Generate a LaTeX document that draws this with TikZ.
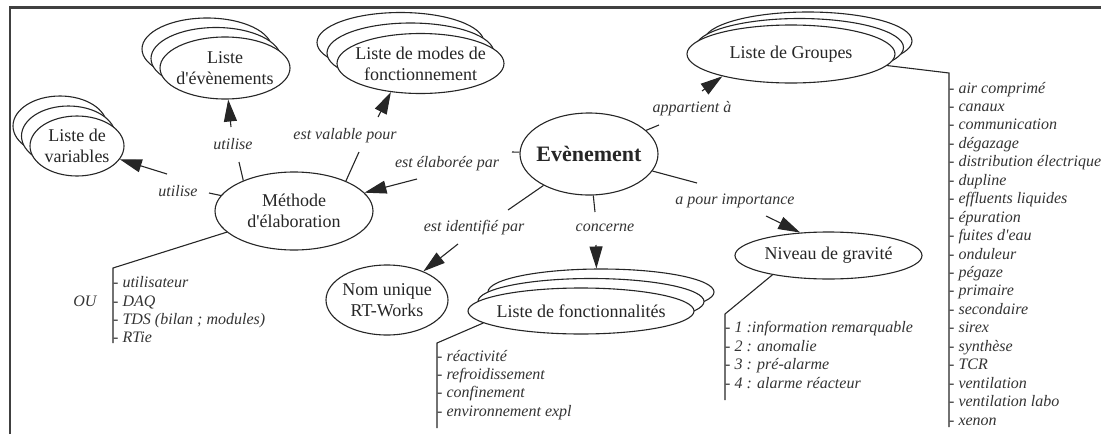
\documentclass[tikz,border=0pt]{standalone}
\usepackage{fontspec}
\setmainfont{Liberation Serif}
\usetikzlibrary{shapes.geometric,arrows.meta}
\begin{document}
\begin{tikzpicture}[x=1pt,y=-1pt,
  ell/.style={ellipse, draw=black!85, fill=white, line width=1.1pt, inner sep=0pt},
  etext/.style={align=center, font=\fontsize{18}{21}\selectfont, text=black!85, inner sep=0pt},
  lab/.style={font=\fontsize{16}{18}\selectfont\itshape, text=black!80, inner sep=0pt, text height=11pt, text depth=3pt},
  item/.style={font=\fontsize{16}{18}\selectfont\itshape, text=black!80, anchor=west, inner sep=0pt, text height=11pt, text depth=3pt},
  conn/.style={draw=black!85, line width=1.1pt},
  arr/.style={conn, -{Triangle[length=22pt,width=13pt]}},
  frame/.style={draw=black!75, line width=2.4pt}
]
\useasboundingbox (0,0) rectangle (1101,434);
% frame
\coordinate (fbl) at (10,434);
\coordinate (ftl) at (10,7.5);
\coordinate (ftr) at (1101,7.5);
\draw[frame] (fbl) -- (ftl) -- (ftr);

% Liste de variables (stack)
\node[ell, minimum width=94pt, minimum height=60pt] (var3) at (60,126) {};
\node[ell, minimum width=94pt, minimum height=60pt] (var2) at (68.5,136) {};
\node[ell, minimum width=94pt, minimum height=60pt] (var) at (77,146) {};
\node[etext] at (var) {Liste de\\variables};

% Liste d'evenements (stack)
\node[ell, minimum width=130pt, minimum height=62pt] (evl3) at (207,49) {};
\node[ell, minimum width=130pt, minimum height=62pt] (evl2) at (216,58.5) {};
\node[ell, minimum width=130pt, minimum height=62pt] (evl) at (225,68) {};
\node[etext] at (evl) {Liste\\d\textquotesingle évènements};

% Liste de modes (stack)
\node[ell, minimum width=167pt, minimum height=60pt] (modes3) at (400.5,42.5) {};
\node[ell, minimum width=167pt, minimum height=60pt] (modes2) at (410.5,53) {};
\node[ell, minimum width=167pt, minimum height=60pt] (modes) at (420.5,63.5) {};
\node[etext] at (modes) {Liste de modes de\\fonctionnement};

% Liste de Groupes (stack)
\node[ell, minimum width=208pt, minimum height=58pt] (grp3) at (808,41) {};
\node[ell, minimum width=208pt, minimum height=58pt] (grp2) at (799.5,47.5) {};
\node[ell, minimum width=208pt, minimum height=58pt] (grp) at (791,54) {};
\node[etext] at (grp) {Liste de Groupes};

% Methode
\node[ell, minimum width=158pt, minimum height=78pt] (met) at (294,211) {};
\node[etext] at (met) {Méthode\\d\textquotesingle élaboration};

% Evenement
\node[ell, minimum width=138pt, minimum height=82pt] (evt) at (589,154) {};
\node[etext, font=\fontsize{22}{26}\selectfont\bfseries] at (evt) {Evènement};

% Niveau de gravite
\node[ell, minimum width=187pt, minimum height=47pt] (niv) at (828.5,255.5) {};
\node[etext] at (niv) {Niveau de gravité};

% Nom unique
\node[ell, minimum width=122pt, minimum height=70pt] (nom) at (387,300) {};
\node[etext] at (nom) {Nom unique\\RT-Works};

% Liste de fonctionnalites (stack)
\node[ell, minimum width=226pt, minimum height=46pt] (fonc3) at (601,292) {};
\node[ell, minimum width=226pt, minimum height=46pt] (fonc2) at (591,301.5) {};
\node[ell, minimum width=226pt, minimum height=46pt] (fonc) at (581,311) {};
\node[etext] at (fonc) {Liste de fonctionnalités};

% connector break points
\coordinate (c1a) at (209,193); \coordinate (c1b) at (167,174);
\coordinate (c2a) at (239,162); \coordinate (c2b) at (231,127);
\coordinate (c3a) at (359,152); \coordinate (c3b) at (378,117);
\coordinate (c4a) at (512,152); \coordinate (c4b) at (417,179);
\coordinate (c5a) at (659,125); \coordinate (c5b) at (702,91);
\coordinate (c6a) at (697,183); \coordinate (c6b) at (766,216);
\coordinate (c7a) at (508,210); \coordinate (c7b) at (458,244);
\coordinate (c8a) at (595,212); \coordinate (c8b) at (596,245);

\draw[conn] (met) -- (c1a); \draw[arr] (c1b) -- (var);
\draw[conn] (met.149.5) -- (c2a); \draw[arr] (c2b) -- (evl);
\draw[conn] (met.30.5) -- (c3a); \draw[arr] (c3b) -- (modes.224);
\draw[conn] (evt) -- (c4a); \draw[arr] (c4b) -- (met);
\draw[conn] (evt) -- (c5a); \draw[arr] (c5b) -- (grp.198);
\draw[conn] (evt) -- (c6a); \draw[arr] (c6b) -- (niv.141.6);
\draw[conn] (evt) -- (c7a); \draw[arr] (c7b) -- (nom);
\draw[conn] (evt) -- (c8a); \draw[arr] (c8b) -- (fonc3.101.8);

% labels
\node[lab] (l1) at (178,192) {utilise};
\node[lab] (l2) at (233,145) {utilise};
\node[lab] (l3) at (345,135) {est valable pour};
\node[lab] (l4) at (447,163) {est élaborée par};
\node[lab] (l5) at (692,108) {appartient à};
\node[lab] (l6) at (735,200) {a pour importance};
\node[lab] (l7) at (474,227) {est identifié par};
\node[lab] (l8) at (605,227) {concerne};

% list: methode
\coordinate (oT) at (113,268); \coordinate (oB) at (113,343);
\draw[conn] (met) -- (oT) -- (oB);
\node[lab] (ou) at (85,302) {OU};
\node[item] (o1) at (113,283) {- utilisateur};
\node[item] (o2) at (113,302) {- DAQ};
\node[item] (o3) at (113,320) {- TDS (bilan ; modules)};
\node[item] (o4) at (113,338) {- RTie};

% list: fonctionnalites
\coordinate (fT) at (437,343); \coordinate (fB) at (437,428);
\draw[conn] (fonc.187.7) -- (fT) -- (fB);
\node[item] (f1) at (437,357) {- réactivité};
\node[item] (f2) at (437,375) {- refroidissement};
\node[item] (f3) at (437,393) {- confinement};
\node[item] (f4) at (437,412) {- environnement expl};

% list: niveau
\coordinate (nT) at (725,314); \coordinate (nB) at (725,400);
\draw[conn] (niv.199.5) -- (nT) -- (nB);
\node[item] (n1) at (725,328) {- 1 :information remarquable};
\node[item] (n2) at (725,347) {- 2 : anomalie};
\node[item] (n3) at (725,365.5) {- 3 : pré-alarme};
\node[item] (n4) at (725,384) {- 4 : alarme réacteur};

% list: groupes
\coordinate (gT) at (949,73); \coordinate (gB) at (949,427);
\draw[conn] (grp) -- (gT) -- (gB);
\foreach \t [count=\i from 0] in {air comprimé, canaux, communication, dégazage, distribution électrique, dupline, effluents liquides, épuration, fuites d\textquotesingle eau, onduleur, pégaze, primaire, secondaire, sirex, synthèse, TCR, ventilation, ventilation labo, xenon}
  \node[item] (g\i) at (949,89+\i*18.45) {- \t};
\end{tikzpicture}
\end{document}
